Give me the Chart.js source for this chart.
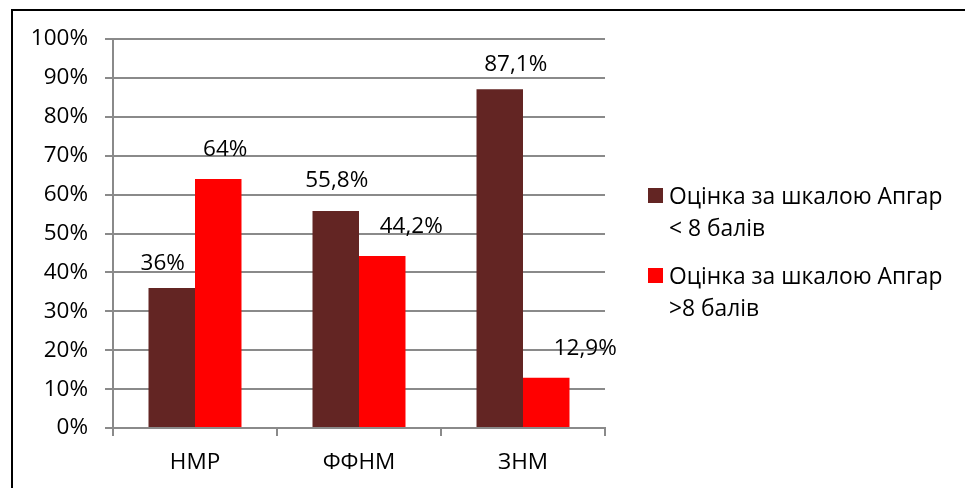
<!DOCTYPE html>
<html lang="uk">
<head>
<meta charset="utf-8">
<title>Оцінка за шкалою Апгар</title>
<script src="https://cdn.jsdelivr.net/npm/chart.js@4"></script>
<style>
  html, body { margin: 0; padding: 0; background: #fff; }
  #wrap { position: relative; width: 965px; height: 488px; overflow: hidden; }
  #frame { position: absolute; left: 11px; top: 9px; width: 980px; height: 500px;
           border-left: 2px solid #000; border-top: 2px solid #000; box-sizing: border-box; }
  #chart { position: absolute; left: 0; top: 0; }
  #legend { position: absolute; left: 648px; top: 0; font-family: "Open Sans", sans-serif;
            font-size: 22.8px; color: #000; }
  .item { position: absolute; left: 0; white-space: nowrap; }
  .box { position: absolute; left: 0; width: 15px; height: 15px; }
  .txt { position: absolute; left: 21px; top: 0; line-height: 32px; }
</style>
</head>
<body>
<div id="wrap">
  <div id="frame"></div>
  <canvas id="chart" width="965" height="488"></canvas>
  <div id="legend"></div>
</div>
<script>
// Groups and the share (%) of newborns in each Apgar band
const categories = ['НМР', 'ФФНМ', 'ЗНМ'];
const apgarBelow8 = [36, 55.8, 87.1];
const apgarAbove8 = [64, 44.2, 12.9];
const seriesNames = [
  ['Оцінка за шкалою Апгар', '< 8 балів'],
  ['Оцінка за шкалою Апгар', '>8 балів']
];
const yTicks = [0, 10, 20, 30, 40, 50, 60, 70, 80, 90, 100];

const FONT = '"Open Sans", sans-serif';
const FONT_SIZE = 22.5;
const GRID = '#8a8a8a';
const colors = ['#632523', '#ff0000'];

const fmt = v => String(v).replace('.', ',') + '%';

// Value labels above each bar, nudged individually the way they sit in the layout
const valueLabels = {
  id: 'valueLabels',
  afterDatasetsDraw(chart, args, opts) {
    const ctx = chart.ctx;
    ctx.save();
    ctx.font = FONT_SIZE + 'px ' + FONT;
    ctx.fillStyle = '#000';
    ctx.textAlign = 'center';
    ctx.textBaseline = 'alphabetic';
    chart.data.datasets.forEach((ds, di) => {
      chart.getDatasetMeta(di).data.forEach((bar, i) => {
        const [dx, dy] = opts.shift[di][i];
        ctx.fillText(fmt(ds.data[i]), bar.x + dx, bar.y + dy + FONT_SIZE * 0.36);
      });
    });
    ctx.restore();
  }
};

const chart = new Chart(document.getElementById('chart'), {
  type: 'bar',
  data: {
    labels: categories,
    datasets: [
      { label: seriesNames[0].join(' '), data: apgarBelow8, backgroundColor: colors[0] },
      { label: seriesNames[1].join(' '), data: apgarAbove8, backgroundColor: colors[1] }
    ]
  },
  options: {
    responsive: false,
    animation: false,
    layout: { padding: { left: 0, right: 360, top: 39, bottom: 0 } },
    datasets: { bar: { categoryPercentage: 0.567, barPercentage: 1.0 } },
    plugins: {
      legend: { display: false },
      tooltip: { enabled: false },
      valueLabels: {
        shift: [
          [[-9, -26], [1, -32], [16, -26]],
          [[7, -31], [29, -31], [39, -31]]
        ]
      }
    },
    scales: {
      x: {
        grid: { drawOnChartArea: false, drawTicks: true, tickLength: 8, color: GRID, lineWidth: 2, offset: true },
        border: { color: GRID, width: 2 },
        ticks: { color: '#000', font: { family: FONT, size: FONT_SIZE }, padding: 13 },
        afterFit: s => { s.height = 60; }
      },
      y: {
        min: 0, max: 100,
        afterBuildTicks: s => { s.ticks = yTicks.map(v => ({ value: v })); },
        grid: { color: GRID, lineWidth: 2, tickLength: 8 },
        border: { color: GRID, width: 2 },
        ticks: { color: '#000', font: { family: FONT, size: FONT_SIZE }, padding: 17,
                 callback: v => v + '%' },
        afterFit: s => { s.width = 113; }
      }
    }
  },
  plugins: [valueLabels]
});

// Legend built from the datasets, two text lines per entry
const legend = document.getElementById('legend');
const entryTops = [180, 260];
chart.data.datasets.forEach((ds, i) => {
  const item = document.createElement('div');
  item.className = 'item';
  item.style.top = entryTops[i] + 'px';
  const box = document.createElement('span');
  box.className = 'box';
  box.style.background = ds.backgroundColor;
  box.style.top = '8px';
  const txt = document.createElement('div');
  txt.className = 'txt';
  txt.innerHTML = seriesNames[i].map(t => t.replace(/&/g, '&amp;').replace(/</g, '&lt;')).join('<br>');
  item.appendChild(box);
  item.appendChild(txt);
  legend.appendChild(item);
});
</script>
</body>
</html>
